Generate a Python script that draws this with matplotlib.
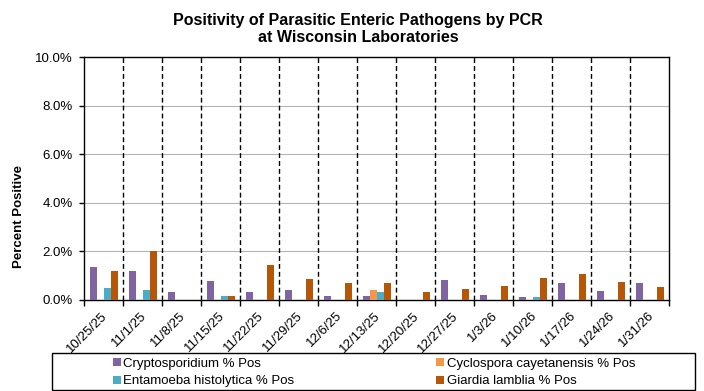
import matplotlib
matplotlib.use("Agg")
import matplotlib.pyplot as plt
import numpy as np
from matplotlib.patches import Patch, Rectangle
import matplotlib.transforms as mtransforms

plt.rcParams['font.family'] = ['Liberation Sans', 'DejaVu Sans']

dates = ["10/25/25", "11/1/25", "11/8/25", "11/15/25", "11/22/25", "11/29/25",
         "12/6/25", "12/13/25", "12/20/25", "12/27/25", "1/3/26", "1/10/26",
         "1/17/26", "1/24/26", "1/31/26"]
crypto = [1.37, 1.21, 0.33, 0.78, 0.33, 0.41, 0.16, 0.16, 0.0, 0.82, 0.21, 0.12, 0.70, 0.37, 0.70]
cyclo = [0, 0, 0, 0, 0, 0, 0, 0.41, 0, 0, 0, 0, 0, 0, 0]
entamoeba = [0.49, 0.41, 0, 0.16, 0, 0, 0, 0.33, 0, 0, 0, 0.12, 0, 0, 0]
giardia = [1.21, 2.03, 0, 0.16, 1.45, 0.88, 0.71, 0.71, 0.33, 0.45, 0.58, 0.90, 1.07, 0.74, 0.53]

series = [
    ("Cryptosporidium % Pos", crypto, "#8064A2"),
    ("Cyclospora cayetanensis % Pos", cyclo, "#F79646"),
    ("Entamoeba histolytica % Pos", entamoeba, "#4BACC6"),
    ("Giardia lamblia % Pos", giardia, "#B65708"),
]

W, H = 704, 391
fig = plt.figure(figsize=(W / 100, H / 100), dpi=100)
ax = fig.add_axes([84.3 / W, 1 - 300 / H, (669.3 - 84.3) / W, (300 - 57.3) / H])

x = np.arange(len(dates))
bw = 0.18
for i, (name, vals, col) in enumerate(series):
    v = np.array(vals, dtype=float)
    ax.bar(x + (i - 1.5) * bw, np.where(v > 0, v, np.nan), width=bw, color=col,
           zorder=3, linewidth=0)

ax.set_xlim(-0.5, len(dates) - 0.5)
ax.set_ylim(0, 10)
ax.set_yticks(np.arange(0, 10.1, 2))
ax.set_yticklabels([f"{v:.1f}%" for v in np.arange(0, 10.1, 2)], fontsize=9.5)
for yv in [2, 4, 6, 8]:
    ax.axhline(yv, color="#b4b4b4", lw=0.8, zorder=1)
for k in range(len(dates) - 1):
    ax.axvline(k + 0.5, color="black", lw=1.0, linestyle=(0, (3.5, 2.2)), zorder=2)

ax.set_xticks(np.arange(-0.5, len(dates), 1.0))
ax.set_xticklabels([])
ax.set_xticks(x, minor=True)
ax.set_xticklabels(dates, minor=True, rotation=45, ha="right", va="center",
                   rotation_mode="anchor", fontsize=9.5)
ax.tick_params(axis="x", which="major", length=4, width=1, direction="out")
ax.tick_params(axis="x", which="minor", length=0, pad=10)
ax.tick_params(axis="y", length=3.5, width=1, direction="out", pad=5)
offset = mtransforms.ScaledTranslation(2 / 100, 0, fig.dpi_scale_trans)
for lab in ax.get_xticklabels(minor=True):
    lab.set_transform(lab.get_transform() + offset)

for s in ax.spines.values():
    s.set_color("black")
    s.set_linewidth(1.0)

ax.set_ylabel("Percent Positive", fontsize=9.5, fontweight="bold")
ax.yaxis.set_label_coords(-(84.3 - 25) / 585, (300 - 216) / 242.7)

fig.text(358 / W, 1 - 21 / H, "Positivity of Parasitic Enteric Pathogens by PCR",
         ha="center", va="center", fontsize=11.5, fontweight="bold")
fig.text(358 / W, 1 - 37.5 / H, "at Wisconsin Laboratories",
         ha="center", va="center", fontsize=11.5, fontweight="bold")

# legend frame
fig.patches.append(Rectangle((51.7 / W, 1 - 390 / H), (695 - 51.7) / W, (390 - 353.3) / H,
                             transform=fig.transFigure, fill=False, edgecolor="black",
                             linewidth=1.0))
cols = [(112.7, [series[0], series[2]]), (436, [series[1], series[3]])]
for xpx, ss in cols:
    handles = [Patch(facecolor=c, edgecolor="none") for _, _, c in ss]
    labels = [n for n, _, _ in ss]
    fig.legend(handles, labels, loc="upper left", bbox_to_anchor=(xpx / W, 1 - 357.5 / H),
               frameon=False, fontsize=9.5, borderpad=0, borderaxespad=0,
               handlelength=0.6, handleheight=0.6, handletextpad=0.2,
               labelspacing=0.45)

fig.savefig("out.png", dpi=100)
